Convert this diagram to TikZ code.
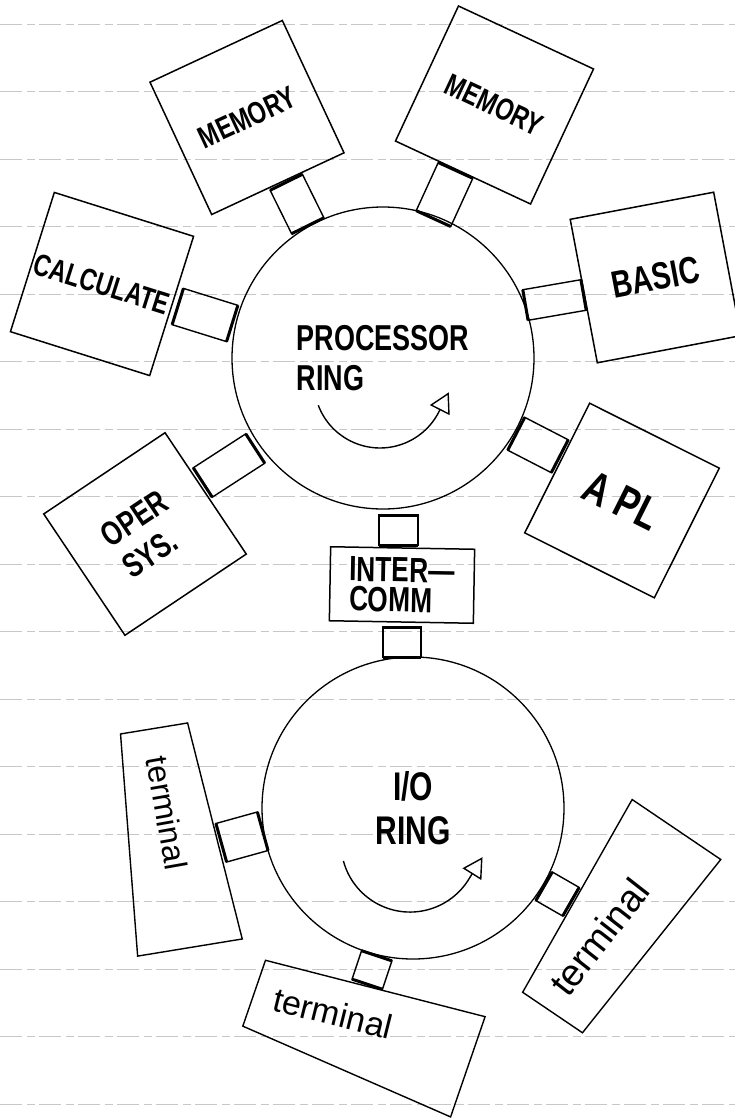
\documentclass[tikz,border=0pt]{standalone}
\usepackage{fontspec}
\setmainfont{Liberation Sans}
\newfontfamily\hand{Liberation Sans}[FakeStretch=0.75]
\usepackage{tikz}
\usetikzlibrary{arrows.meta}
\usetikzlibrary{shapes.geometric}

\begin{document}
\begin{tikzpicture}[x=1pt, y=1pt,
  ring/.style={circle, draw, line width=1.3pt, minimum size=302pt, inner sep=0pt},
  module/.style={draw, line width=1.5pt, minimum size=146pt, inner sep=0pt, align=center},
  port/.style={draw, line width=1.4pt, inner sep=0pt, outer sep=0pt},
  joint/.style={line width=3pt},
  termbox/.style={trapezium, trapezium stretches body, draw, line width=1.4pt, inner sep=0pt},
  spin/.style={line width=1.4pt, -{Triangle[open, length=20pt, width=22pt]}},
  paperline/.style={black!22, line width=0.6pt, dash pattern=on 22pt off 5pt on 8pt off 4pt},
  lettering/.style 2 args={font=\hand\bfseries\fontsize{#1}{#2}\selectfont},
  wording/.style={font=\fontsize{#1}{#1}\selectfont}]
  \useasboundingbox (0,0) rectangle (735,-1120);

  % Hoja rayada
  \foreach \k in {0,...,16}
    \draw[paperline] (0,{-24-67.5*\k}) -- (735,{-24-67.5*\k});

  % Anillo de procesadores
  \node[ring, align=left, lettering={36}{40}] (proc) at (383,-358) {PROCESSOR\\RING};
  \draw[spin] (318.3,-405.3) arc[start angle=200.7, end angle=333, radius=66] -- ++(63:22);

  \node[module, rotate=25, lettering={31}{31}] (mem1) at (247,-117.5) {MEMORY};
  \node[module, rotate=-25, minimum size=149pt, lettering={31}{31}] (mem2) at (494.5,-105) {MEMORY};
  \node[module, rotate=-17.5, lettering={31}{31}] (calc) at (102,-284) {CALCULATE};
  \node[module, rotate=10.7, lettering={38}{38}] (basic) at (655.5,-277.5) {BASIC};
  \node[module, rotate=33.8, align=left, lettering={34}{38}] (oper) at (145,-534) {OPER\\SYS.};
  \node[module, rotate=-26.6, minimum size=145pt, lettering={46}{46}] (apl) at (622,-500.5) {A PL};

  \node[port, rotate=116.3, minimum width=48.5pt, minimum height=36pt] (pm1) at (297,-204) {};
  \node[port, rotate=65.4, minimum width=53pt, minimum height=38pt] (pm2) at (444.5,-194.5) {};
  \node[port, rotate=162.7, minimum width=57pt, minimum height=38pt] (pcalc) at (205,-315) {};
  \node[port, rotate=9.8, minimum width=59pt, minimum height=31pt] (pbasic) at (554.5,-300) {};
  \node[port, rotate=212.9, minimum width=62.5pt, minimum height=35pt] (poper) at (229,-465.5) {};
  \node[port, rotate=-27.3, minimum width=49pt, minimum height=37pt] (papl) at (538,-445) {};

  % Intercomunicador
  \node[module, rotate=-1, minimum width=144pt, minimum height=74pt, align=left, lettering={35}{30}] (inter) at (402,-585) {INTER—\\COMM};
  \node[port, rotate=-90, minimum width=30pt, minimum height=39pt] (pup) at (398.5,-530) {};
  \node[port, rotate=90, minimum width=30pt, minimum height=38pt] (pdown) at (402,-642) {};

  % Anillo de E/S
  \node[ring, align=center, lettering={40}{44}] (io) at (413,-808) {I/O\\RING};
  \draw[spin] (343.4,-860.9) arc[start angle=195, end angle=330, radius=69] -- ++(58:24);

  \node[termbox, rotate=9.3, minimum width=106pt, trapezium angle=85.1] (term1) at (172,-838) {\rule{0pt}{222pt}};
  \node[termbox, rotate=71, minimum width=106pt, trapezium angle=85.4] (term2) at (361,-1030) {\rule{0pt}{226pt}};
  \node[termbox, rotate=145.9, minimum width=107pt, trapezium angle=85.5] (term3) at (614.5,-921) {\rule{0pt}{221pt}};
  \node[wording=32, rotate=-80] (term1-t) at (167,-813) {terminal};
  \node[wording=34, rotate=-14] (term2-t) at (333,-1013) {terminal};
  \node[wording=38, rotate=52] (term3-t) at (599,-937) {terminal};

  \node[port, rotate=195.5, minimum width=43pt, minimum height=40pt] (pt1) at (242,-837) {};
  \node[port, rotate=251.6, minimum width=30pt, minimum height=32pt] (pt2) at (372,-970) {};
  \node[port, rotate=-29.9, minimum width=31pt, minimum height=33pt] (pt3) at (557.5,-894) {};

  % Extremos gruesos de los conectores
  \foreach \p in {pm1,pm2,pcalc,pbasic,poper,papl,pup,pdown,pt1,pt2,pt3}
    \draw[joint] (\p.north west) -- (\p.south west) (\p.north east) -- (\p.south east);
\end{tikzpicture}
\end{document}
